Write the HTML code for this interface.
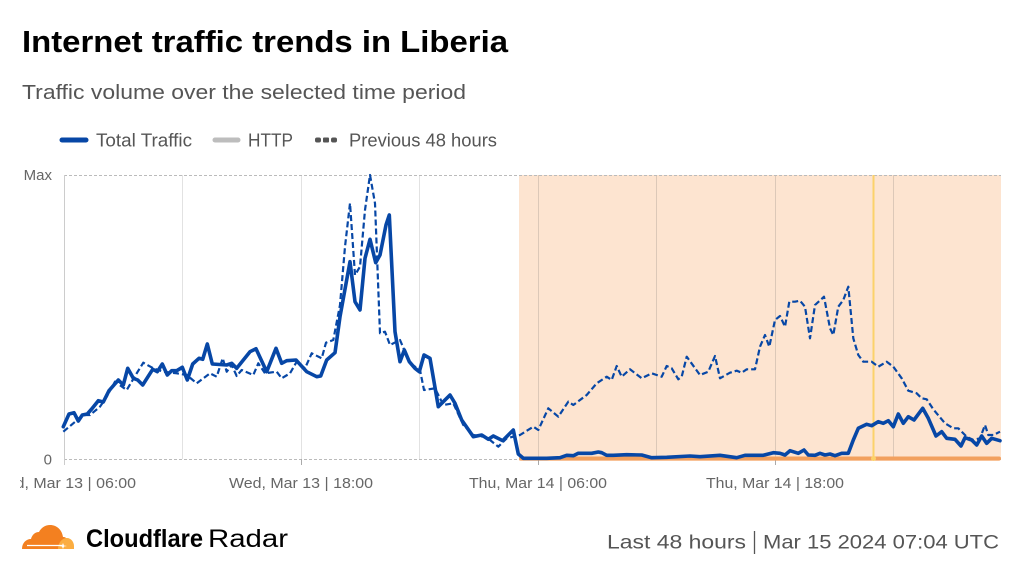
<!DOCTYPE html>
<html><head><meta charset="utf-8"><style>
html,body{margin:0;padding:0;background:#fff;}
body{width:1024px;height:576px;overflow:hidden;font-family:"Liberation Sans",Arial,sans-serif;}
svg{display:block;}
</style></head><body>
<svg width="1024" height="576" viewBox="0 0 1024 576" xmlns="http://www.w3.org/2000/svg" font-family="Liberation Sans, Arial, sans-serif">
<defs>
<clipPath id="lc"><rect x="20" y="460" width="400" height="40"/></clipPath>
</defs>
<text x="22" y="52" font-size="31" font-weight="bold" fill="#000" textLength="486" lengthAdjust="spacingAndGlyphs">Internet traffic trends in Liberia</text>
<text x="22" y="99" font-size="20" fill="#555" textLength="444" lengthAdjust="spacingAndGlyphs">Traffic volume over the selected time period</text>
<!-- legend -->
<line x1="62" y1="140" x2="86" y2="140" stroke="#0747a6" stroke-width="5" stroke-linecap="round"/>
<text x="96" y="146.5" font-size="18" fill="#555" textLength="96" lengthAdjust="spacingAndGlyphs">Total Traffic</text>
<line x1="215" y1="140" x2="238" y2="140" stroke="#bdbdbd" stroke-width="5" stroke-linecap="round"/>
<text x="248" y="146.5" font-size="18" fill="#555" textLength="45" lengthAdjust="spacingAndGlyphs">HTTP</text>
<rect x="315" y="137.5" width="6" height="5" rx="2" fill="#555"/>
<rect x="323" y="137.5" width="6" height="5" rx="1" fill="#555"/>
<rect x="331" y="137.5" width="6" height="5" rx="2" fill="#555"/>
<text x="349" y="146.5" font-size="18" fill="#555" textLength="148" lengthAdjust="spacingAndGlyphs">Previous 48 hours</text>
<!-- shaded region -->
<path d="M519,175 H1001 V458 Q1001,461 998,461 H519 Z" fill="#fde4d0"/>
<!-- grid -->
<g stroke="#e2e2e2" stroke-width="1">
<line x1="182.5" y1="175" x2="182.5" y2="459"/>
<line x1="301.5" y1="175" x2="301.5" y2="459"/>
<line x1="419.5" y1="175" x2="419.5" y2="459"/>
</g>
<g stroke="#dcc8b8" stroke-width="1">
<line x1="538.5" y1="175" x2="538.5" y2="459"/>
<line x1="656.5" y1="175" x2="656.5" y2="459"/>
<line x1="775.5" y1="175" x2="775.5" y2="459"/>
<line x1="893.5" y1="175" x2="893.5" y2="459"/>
</g>
<line x1="64" y1="175.5" x2="1001" y2="175.5" stroke="#bbb" stroke-width="1" stroke-dasharray="3,2"/>
<line x1="64" y1="459.5" x2="1001" y2="459.5" stroke="#bbb" stroke-width="1" stroke-dasharray="3,2"/>
<line x1="64.5" y1="175" x2="64.5" y2="465" stroke="#ccc" stroke-width="1"/>
<g stroke="#aaa" stroke-width="1">
<line x1="301.5" y1="459" x2="301.5" y2="465"/>
<line x1="538.5" y1="459" x2="538.5" y2="465"/>
<line x1="775.5" y1="459" x2="775.5" y2="465"/>
</g>
<!-- yellow marker -->
<line x1="873.5" y1="175" x2="873.5" y2="459" stroke="#fcd26a" stroke-width="2"/>
<!-- orange http line -->
<line x1="521" y1="458.5" x2="999" y2="458.5" stroke="#f2a05e" stroke-width="4" stroke-linecap="round"/>
<circle cx="873.5" cy="458.5" r="2.5" fill="#fcd26a"/>
<!-- dashed previous -->
<polyline fill="none" stroke="#0747a6" stroke-width="2.2" stroke-dasharray="6,3" stroke-linejoin="round" points="63.3,431.7 73.3,423.3 83.3,415 90,415 100,406.7 106.7,396.7 115,381.7 126.7,390 136.7,373.3 143.3,362.7 153.3,368.3 163.3,371.7 176.7,373.3 186.7,375 196.7,383.3 210,373.3 216.7,376.7 222.7,358.3 226.7,371.7 231.7,365 236.7,376 241.7,370 253.3,375 258.3,363.3 265,373.3 276.7,371.7 281.7,378.3 290,373.3 296.7,361.7 305,368.3 311.7,353.3 321.7,358.3 326,342.7 333.3,340 340,305 345,246.7 350,203.3 355,275 360,266.7 365,210 370,175 375,203.3 380,333.3 385,331.7 390,345 400,340 410,363.3 420,370 424,390 435,388.3 443.3,405 453.3,403.3 463.3,425 473.3,435 483.3,436.7 490,440 498.3,446.7 506.7,438.3 520,435 533.3,426.7 538.3,430 548.3,408.3 558.3,416.7 568.3,401.7 573.3,405 586.7,395 596.7,383.3 606.7,376.7 611.7,380 616.7,366 621.7,376.7 630,369.3 641.7,378.3 651.7,373.3 661.7,376.7 666.7,366 671.7,368.3 678.3,379.3 681.7,376.7 686.7,356.7 700,375 708.3,371.7 715,356 720,378.3 730,372.7 736.7,370.7 741.7,372.7 746.7,369.3 755,369.3 760,346.7 765,335 769.3,346.7 775,320 780,316 785,326.7 789.3,301.7 795,301.7 800,300.7 805,306.7 810,338.3 815,305 824,296.7 830,328.3 833.3,335 838.3,306.7 843.3,300 848.3,286.7 853.3,338.3 858.3,355 863.3,361.7 871.7,361.7 878.3,366.7 886.7,361.7 893.3,366.7 901.7,378.3 908.3,390.7 916.7,393.3 921.7,398.3 926.7,399.3 933.3,409.3 945,423.3 953.3,428.3 958.3,428.3 966.7,436.7 973.3,440 980,438.3 985,425 988.3,435 993.3,435 1000,431.7"/>
<!-- solid total -->
<polyline fill="none" stroke="#0747a6" stroke-width="3.6" stroke-linejoin="round" stroke-linecap="round" points="63.3,426.7 69,414 74,412.7 78.3,421 82.3,415 87.3,414 91.7,409 98.3,400.7 103.3,402 109,390.7 118.3,380 123.3,385 127.7,368.3 133.3,378.3 137.7,380 142.7,385 152.7,369.3 157.3,371.7 162.3,364 167.3,375 171.7,370.7 176.7,370.7 182.3,367.3 187.3,380 192.7,364 199,358.3 202.7,359.3 207.3,344 212.3,364 226.7,365 231.7,363.3 236.7,368.3 250,351.7 256,348.7 266.7,371.7 276,348.3 281.7,363.3 286.7,360.7 296,360 306.7,371.7 316.7,376.7 320.7,376 326.7,360 335,352.7 340,316.7 350,261.7 355,301.7 360,310 365,258.3 370,239.3 375.7,262.7 380,255 386,225 389.3,215 395,331.7 400,361.7 404.3,350 409.3,361.7 415,368.3 419.3,371.7 424,355 430,358.3 438.3,406.7 443.3,401.7 450,395 455,403.3 461.7,420 473.3,436.7 481.7,435 488.3,439.3 493.3,436 502.7,440.7 513.3,430 518.3,454 523.3,458.3 546.7,458.3 560,457.7 566.7,455.3 573.3,455.7 578.3,453.3 591.7,453.3 598.3,452 601.7,452.7 606.7,455.3 613.3,455.3 626.7,454.7 641.7,455 651.7,457.7 666.7,457.3 690,456 700,456.7 720,455.3 736.7,457.7 745,455.3 763.3,455.3 773.3,452.7 780,453.3 785,455 790,450.7 798.3,453.3 804,450 808.3,455 815,455.3 820,453.3 825,455 830,454 835,455.7 841.7,453.3 848.3,453.3 853.3,440 858.3,428.3 866.7,424.3 871.7,425.7 878.3,421.7 883.3,423.3 888.3,420.7 893.3,426.7 898.3,414 903.3,423.3 908.3,416.7 914,420 922.7,408.3 928.3,418.3 936,436 941.7,431.7 946.7,438.3 955,439.3 961,446 965,437.7 971.7,440 976.7,445 981.7,436 986.7,443.3 991.7,438.3 1000,440.7"/>
<!-- axis labels -->
<text x="52" y="180" font-size="15" fill="#666" text-anchor="end">Max</text>
<text x="52" y="464.5" font-size="15" fill="#666" text-anchor="end">0</text>
<g font-size="15" fill="#666" text-anchor="middle">
<text x="64" y="488" clip-path="url(#lc)" textLength="144" lengthAdjust="spacingAndGlyphs">Wed, Mar 13 | 06:00</text>
<text x="301" y="488" textLength="144" lengthAdjust="spacingAndGlyphs">Wed, Mar 13 | 18:00</text>
<text x="538" y="488" textLength="138" lengthAdjust="spacingAndGlyphs">Thu, Mar 14 | 06:00</text>
<text x="775" y="488" textLength="138" lengthAdjust="spacingAndGlyphs">Thu, Mar 14 | 18:00</text>
</g>
<!-- footer logo -->
<g>
<path d="M22,549 C22,543 26,539 31,539 C32,535 35,532 39,532 C41,528 45,525 50,525 C57,525 62,530 63,537 C64,537 65,537 66,538 L66,549 Z" fill="#f38020"/>
<path d="M58,549 C58,543 62,538 67,538 C71,538 74,542 74,546 L74,549 Z" fill="#fbad41"/>
<line x1="27" y1="545.5" x2="62" y2="545.5" stroke="#fff" stroke-width="1.2"/>
<path d="M63,543 L64,545.5 L67,546 L64,546.5 L63,549 L62,546.5 L59,546 L62,545.5 Z" fill="#fff"/>
</g>
<text x="86" y="547" font-size="25" font-weight="bold" fill="#000" textLength="117" lengthAdjust="spacingAndGlyphs">Cloudflare</text>
<text x="208" y="547" font-size="25" fill="#000" textLength="80" lengthAdjust="spacingAndGlyphs">Radar</text>
<text x="607" y="548.5" font-size="19.5" fill="#555" textLength="139" lengthAdjust="spacingAndGlyphs">Last 48 hours</text>
<line x1="754.5" y1="531" x2="754.5" y2="554" stroke="#555" stroke-width="1.3"/>
<text x="763" y="548.5" font-size="19.5" fill="#555" textLength="236" lengthAdjust="spacingAndGlyphs">Mar 15 2024 07:04 UTC</text>
</svg>
</body></html>
